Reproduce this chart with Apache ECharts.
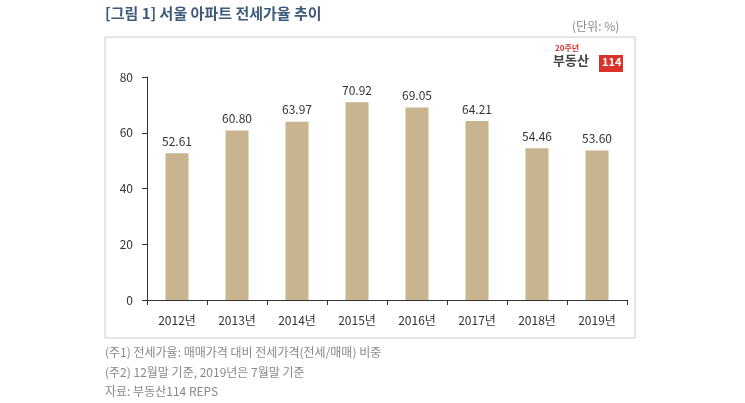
<!DOCTYPE html>
<html><head><meta charset="utf-8">
<script src="https://cdn.jsdelivr.net/npm/echarts@6/dist/echarts.min.js"></script>
<style>html,body{margin:0;background:#fff}#c{width:745px;height:403px}</style>
</head><body><div id="c"></div>
<script>
const categories=['2012년','2013년','2014년','2015년','2016년','2017년','2018년','2019년'];
const values=[52.61,60.80,63.97,70.92,69.05,64.21,54.46,53.60];
const yTicks=[0,20,40,60,80];
const F='"Noto Sans CJK KR", sans-serif';
const chart=echarts.init(document.getElementById('c'));
chart.setOption({
  animation:false,
  graphic:[
    {type:'text',left:105,top:6,style:{text:'[그림 1] 서울 아파트 전세가율 추이',font:'bold 15px '+F,fill:'#3d5a7a'}},
    {type:'text',left:572,top:20,style:{text:'(단위: %)',font:'12px '+F,fill:'#888'}},
    {type:'rect',shape:{x:105,y:37,width:530,height:301},style:{fill:'none',stroke:'#ccc',lineWidth:1}},
    {type:'text',left:555,top:44,style:{text:'20주년',font:'bold 8px '+F,fill:'#d9332b'}},
    {type:'text',left:553,top:54,style:{text:'부동산',font:'bold 13px '+F,fill:'#444'}},
    {type:'rect',shape:{x:599,y:55,width:24,height:17},style:{fill:'#d9332b'}},
    {type:'text',left:602,top:56,style:{text:'114',font:'bold 11px '+F,fill:'#fff'}},
    {type:'text',left:105,top:346,style:{text:'(주1) 전세가율: 매매가격 대비 전세가격(전세/매매) 비중',font:'12px '+F,fill:'#888'}},
    {type:'text',left:105,top:366,style:{text:'(주2) 12월말 기준, 2019년은 7월말 기준',font:'12px '+F,fill:'#888'}},
    {type:'text',left:105,top:385,style:{text:'자료: 부동산114 REPS',font:'12px '+F,fill:'#888'}}
  ],
  grid:{left:147,right:118,top:77,bottom:103},
  xAxis:{type:'category',data:categories,axisLine:{lineStyle:{color:'#333'}},axisTick:{show:true,lineStyle:{color:'#333'}},
    axisLabel:{color:'#333',fontSize:12,fontFamily:F,margin:14}},
  yAxis:{type:'value',min:0,max:80,interval:20,axisLine:{show:true,lineStyle:{color:'#333'}},axisTick:{show:true,inside:false,lineStyle:{color:'#333'}},
    splitLine:{show:false},axisLabel:{color:'#333',fontSize:12,fontFamily:F,margin:14,formatter:v=>yTicks.includes(v)?String(v):''}},
  series:[{type:'bar',data:values,barWidth:23,itemStyle:{color:'#c8b48f'},
    label:{show:true,position:'top',color:'#333',fontSize:12,fontFamily:F,formatter:p=>p.value.toFixed(2),distance:6}}]
});
</script></body></html>
